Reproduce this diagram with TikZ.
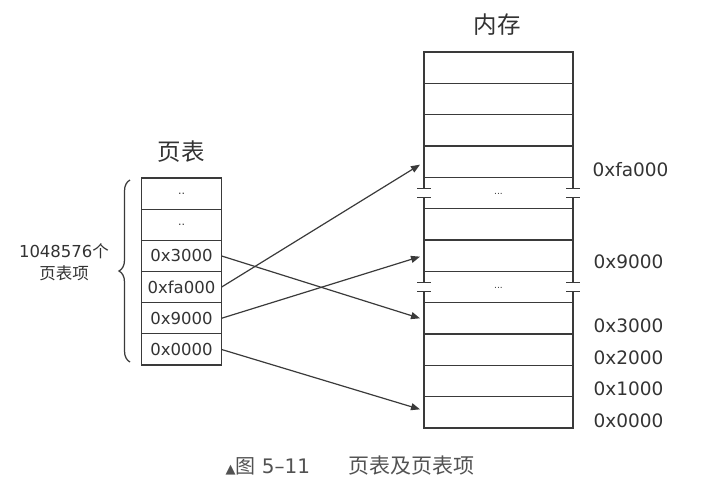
\documentclass[tikz,border=0pt]{standalone}
\usepackage{fontspec}
\setmainfont{DejaVu Sans}
\newfontfamily\cjk{Noto Sans CJK SC}
\usetikzlibrary{arrows.meta,decorations.pathreplacing}
\definecolor{ink}{HTML}{333333}
\definecolor{linec}{HTML}{3A3A3A}
\tikzset{
  memrow/.style={minimum width=149pt, minimum height=31.33pt, inner sep=0pt, outer sep=0pt},
  ptrow/.style={draw=linec, minimum width=80pt, minimum height=31.17pt, inner sep=0pt, outer sep=0pt,
     text=ink, font=\fontsize{16.5}{18}\selectfont},
  addr/.style={anchor=west, text=ink, inner sep=0pt, font=\fontsize{18.5}{20}\selectfont},
  title/.style={text=ink, inner sep=0pt, font=\cjk\fontsize{23.5}{26}\selectfont},
  arr/.style={draw=linec, line width=1.2pt, -{Triangle[length=9pt,width=7pt]}},
  gapdots/.style={font=\fontsize{9}{9}\selectfont, text=ink}
}
\begin{document}
\begin{tikzpicture}[x=1pt,y=-1pt,line width=1.25pt]
\useasboundingbox (0,0) rectangle (710,493);
% memory rows
\foreach \i in {1,...,12}{
  \node[memrow] (m\i) at (498.5,{52+31.333*(\i-0.5)}) {};
}
\foreach \i in {1,2,3,4,6,7,9,10,11,12}{
  \draw[linec] (m\i.north west) rectangle (m\i.south east);
}
\foreach \g in {5,8}{
  \node[gapdots] at ([yshift=-1pt]m\g.center) {...};
  \foreach \s in {west,east}{
    \draw[linec] (m\g.north \s) -- ([yshift=4.5pt]m\g.\s);
    \draw[linec] ([yshift=-4.5pt]m\g.\s) -- (m\g.south \s);
    \draw[linec] ([xshift=-7pt,yshift=4.5pt]m\g.\s) -- ([xshift=7pt,yshift=4.5pt]m\g.\s);
    \draw[linec] ([xshift=-7pt,yshift=-4.5pt]m\g.\s) -- ([xshift=7pt,yshift=-4.5pt]m\g.\s);
  }
}
\node[title] (memtitle) at (497,25) {内存};
% page table
\node[title] (pttitle) at (181,152) {页表};
\node[ptrow] (p1) at (181.5,193.6) {\raisebox{-2pt}{\fontsize{11}{11}\selectfont ..}};
\node[ptrow, anchor=north] (p2) at (p1.south) {\raisebox{-2pt}{\fontsize{11}{11}\selectfont ..}};
\node[ptrow, anchor=north] (p3) at (p2.south) {0x3000};
\node[ptrow, anchor=north] (p4) at (p3.south) {0xfa000};
\node[ptrow, anchor=north] (p5) at (p4.south) {0x9000};
\node[ptrow, anchor=north] (p6) at (p5.south) {0x0000};
% brace and label
\draw[linec, decorate, decoration={brace, amplitude=11pt}] (130,362) -- (130,180);
\node[text=ink, align=center, inner sep=0pt, font=\fontsize{16.5}{22}\selectfont] (cnt) at (64,262)
  {1048576{\cjk 个}\\{\cjk 页表项}};
% addresses
\node[addr] (afa) at (592,169.5) {0xfa000};
\node[addr] (a9) at (593,262) {0x9000};
\node[addr] (a3) at (593,326) {0x3000};
\node[addr] (a2) at (593,357.5) {0x2000};
\node[addr] (a1) at (593,389) {0x1000};
\node[addr] (a0) at (593,420.5) {0x0000};
% arrows
\draw[arr] (p3.east) -- ([xshift=-4pt]m9.west);
\draw[arr] (p4.east) -- ([xshift=-4pt,yshift=-3pt]m4.west);
\draw[arr] (p5.east) -- ([xshift=-4pt,yshift=-1pt]m7.west);
\draw[arr] (p6.east) -- ([xshift=-4pt,yshift=3pt]m12.west);
% caption
\node[text=ink!85, inner sep=0pt, anchor=west, font=\fontsize{20}{21}\selectfont] (cap1) at (225,466)
  {{\fontsize{13}{13}\selectfont ▲}{\cjk 图} 5–11};
\node[text=ink!85, inner sep=0pt, font=\cjk\fontsize{21}{22}\selectfont] (cap2) at (411.5,466) {页表及页表项};
\end{tikzpicture}
\end{document}
